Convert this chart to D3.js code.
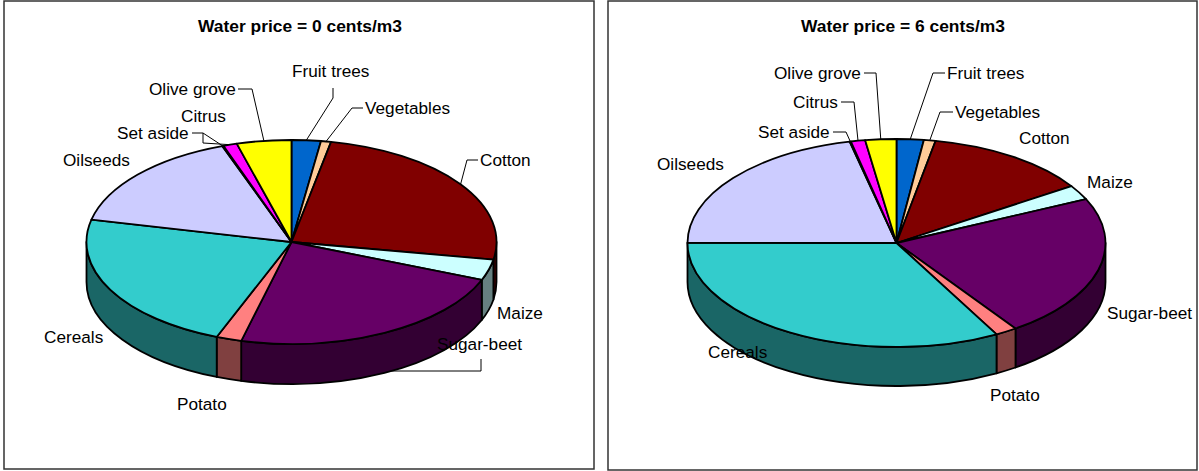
<html>
    <head>
        <style>
            body{ margin: 0; background: #fff; }
            svg{ display: block; }
            text{ font-family: "Liberation Sans", Arial, sans-serif; fill: #000; }
            .label{ font-size: 17.2px; }
            .title{ font-size: 17.4px; font-weight: bold; text-anchor: middle; }
            .leader{ fill: none; stroke: #000; stroke-width: 1; }
            .slice, .wall{ stroke: #000; stroke-width: 1.8; stroke-linejoin: round; vector-effect: non-scaling-stroke; }
        </style>
        <script src="https://d3js.org/d3.v7.min.js" charset="utf-8"></script>
    </head>
    <body>
        <div id="viz"></div>
        <script>
            // clockwise from 12 o'clock (% of area)
            let crops   = ['Fruit trees', 'Vegetables', 'Cotton', 'Maize', 'Sugar-beet', 'Potato', 'Cereals', 'Oilseeds', 'Set aside', 'Citrus', 'Olive grove'];
            let colours = ['#0066cc', '#ffcc99', '#800000', '#ccffff', '#660066', '#ff8080', '#33cccc', '#ccccff', '#000080', '#ff00ff', '#ffff00'];
            let shares0 = [2.3, 0.8, 24.7, 3.3, 22.9, 2.0, 22.6, 16.0, 0.1, 1.1, 4.3];
            let shares6 = [2.1, 0.9, 12.8, 2.3, 22.3, 1.7, 33.0, 21.4, 0.1, 1.1, 2.4];

            // label layout per crop; a leader runs on to the rim unless toRim is false
            let layout0 = [
                { x: 292, y: 71,  leader: [[333, 88], [333, 98]] },
                { x: 365, y: 108, leader: [[363, 108], [352, 108]] },
                { x: 480, y: 160, leader: [[478, 160], [467, 160]] },
                { x: 497, y: 313 },
                { x: 437, y: 344, leader: [[481, 359], [481, 371], [385, 371]], toRim: false },
                { x: 177, y: 404 },
                { x: 44,  y: 337 },
                { x: 63,  y: 160 },
                { x: 117, y: 133, leader: [[192, 133], [203, 133]] },
                { x: 181, y: 116, leader: [[203, 133], [203, 143]] },
                { x: 149, y: 89,  leader: [[238, 89], [252, 89]] }
            ];
            let layout6 = [
                { x: 947,  y: 73,  leader: [[945, 73], [933, 73]] },
                { x: 955,  y: 112, leader: [[953, 112], [940, 112]] },
                { x: 1019, y: 138 },
                { x: 1087, y: 182 },
                { x: 1107, y: 313 },
                { x: 990,  y: 395 },
                { x: 708,  y: 352 },
                { x: 657,  y: 164 },
                { x: 758,  y: 132, leader: [[833, 132], [846, 132]] },
                { x: 793,  y: 102, leader: [[841, 102], [854, 102]] },
                { x: 774,  y: 73,  leader: [[864, 73], [876, 73]] }
            ];

            let panels = [
                { title: 'Water price = 0 cents/m3', shares: shares0, layout: layout0,
                  frame: [4, 1, 590, 468], titleX: 300, cx: 291.5, cy: 242, rx: 205, ry: 102, depth: 40 },
                { title: 'Water price = 6 cents/m3', shares: shares6, layout: layout6,
                  frame: [608, 1, 589, 469], titleX: 903, cx: 896.5, cy: 243, rx: 209, ry: 104, depth: 39 }
            ];

            let svg = d3.select('#viz').append('svg').attr('width', 1199).attr('height', 471);
            let pie = d3.pie().value(d => d).sort(null);
            let arc = d3.arc().innerRadius(0).outerRadius(1);   // unit circle, squashed by the group transform

            panels.forEach(drawPanel);

            function drawPanel(p) {
                let g = svg.append('g');
                let arcs = pie(p.shares);

                g.append('rect')
                    .attr('x', p.frame[0]).attr('y', p.frame[1])
                    .attr('width', p.frame[2]).attr('height', p.frame[3])
                    .style('fill', '#fff').style('stroke', '#333').style('stroke-width', 1.5);

                g.append('text').attr('class', 'title')
                    .attr('x', p.titleX).attr('y', 32).text(p.title);

                // point on the ellipse rim for a clockwise angle
                let rimPoint = a => [p.cx + p.rx * Math.sin(a), p.cy - p.ry * Math.cos(a)];

                // leaders go under the pie, so the part behind the wall is hidden
                p.layout.forEach((l, i) => {
                    if (!l.leader) return;
                    let a = (arcs[i].startAngle + arcs[i].endAngle) / 2;
                    let pts = l.toRim === false ? l.leader : [...l.leader, rimPoint(a)];
                    g.append('path').attr('class', 'leader').attr('d', d3.line()(pts));
                });

                let pieG = g.append('g')
                    .attr('transform', `translate(${p.cx}, ${p.cy}) scale(${p.rx}, ${p.ry})`);
                let h = p.depth / p.ry;

                // outer wall, front half only (angles PI/2 to 3PI/2 from the top)
                pieG.selectAll('.wall')
                    .data(arcs.filter(d => d.endAngle > Math.PI / 2 && d.startAngle < 3 * Math.PI / 2))
                    .join('path')
                    .attr('class', 'wall')
                    .attr('d', d => {
                        let a0 = Math.max(d.startAngle, Math.PI / 2) - Math.PI / 2,
                            a1 = Math.min(d.endAngle, 3 * Math.PI / 2) - Math.PI / 2;
                        let w = d3.path();
                        w.moveTo(Math.cos(a0), Math.sin(a0));
                        w.arc(0, 0, 1, a0, a1);
                        w.lineTo(Math.cos(a1), Math.sin(a1) + h);
                        w.arc(0, h, 1, a1, a0, true);
                        w.closePath();
                        return w.toString();
                    })
                    .style('fill', d => {
                        let c = d3.rgb(colours[d.index]);
                        return d3.rgb(c.r / 2, c.g / 2, c.b / 2);
                    });

                pieG.selectAll('.slice')
                    .data(arcs)
                    .join('path')
                    .attr('class', 'slice')
                    .attr('d', arc)
                    .style('fill', d => colours[d.index]);

                g.selectAll('.label')
                    .data(p.layout)
                    .join('text')
                    .attr('class', 'label')
                    .attr('x', d => d.x)
                    .attr('y', d => d.y)
                    .attr('dy', '.35em')
                    .text((d, i) => crops[i]);
            }
        </script>
    </body>
</html>
